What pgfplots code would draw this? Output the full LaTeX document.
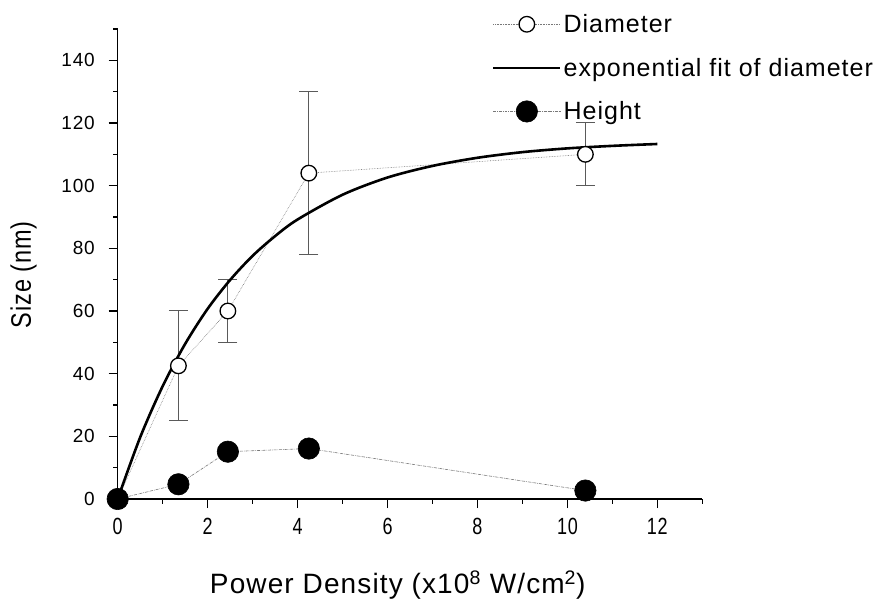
\documentclass[border=0pt]{standalone}
\usepackage{graphicx}
\usepackage{pgfplots}
\pgfplotsset{compat=1.18}
\usepackage{fontspec}
\setmainfont{Liberation Sans}[LetterSpace=4]
\definecolor{lgray}{RGB}{120,120,120}
\definecolor{egray}{RGB}{90,90,90}
\begin{document}
\begin{tikzpicture}
\path[use as bounding box] (-117.7bp,-102bp) rectangle (760.3bp,499bp);
\begin{axis}[
  scale only axis,
  width=584.6bp, height=470bp,
  xmin=0, xmax=13, ymin=0, ymax=150,
  axis lines=left,
  axis line style={-, line width=1.6bp},
  xtick={0,2,...,12}, minor xtick={1,3,...,13},
  ytick={0,20,...,140}, minor ytick={10,30,...,150},
  tick align=outside,
  major tick length=9bp, minor tick length=4.5bp,
  every tick/.style={line width=1.4bp, black},
  /pgf/number format/assume math mode=true,
  xticklabel={\scalebox{1}[1.3]{\pgfmathprintnumber{\tick}}},
  xticklabel style={font=\fontsize{18bp}{22bp}\selectfont, yshift=-7bp},
  yticklabel style={font=\fontsize{19bp}{22bp}\selectfont, xshift=-10.5bp},
  xlabel={Power Density (x10\textsuperscript{8} W/cm\textsuperscript{2})},
  ylabel={\scalebox{1}[1.2]{Size (nm)}},
  xlabel style={font=\fontsize{28bp}{32bp}\selectfont, at={(axis description cs:0.479,-0.2021)}, anchor=base},
  ylabel style={font=\fontsize{23.5bp}{28bp}\selectfont, at={(axis description cs:-0.1608,0.477)}, anchor=center},
  clip=false,
  legend style={at={(0.640,1.0356)}, anchor=north west, draw=none, fill=none,
    font=\fontsize{25bp}{28bp}\selectfont, row sep=20bp, inner sep=0pt},
  legend cell align=left,
  legend image code/.code={\draw[mark repeat=2,mark phase=2,#1] plot coordinates {(0bp,0bp) (33.5bp,0bp) (67bp,0bp)};},
]
\addplot[lgray, line width=0.6bp, densely dotted,
  mark=*, mark size=7.8bp, mark options={solid, fill=white, draw=black, line width=1.3bp},
  error bars/.cd, y dir=both, y explicit, error mark=-,
  error bar style={egray, line width=1bp, solid},
  error mark options={rotate=90, egray, line width=1bp, mark size=9.5bp, solid}]
  coordinates {
  (0,0) +- (0,0)
  (1.35,42.5) +- (0,17.5)
  (2.45,60) +- (0,10)
  (4.25,104) +- (0,26)
  (10.4,110) +- (0,10)
  };
\addlegendentry{Diameter}
\addplot[black, line width=2.6bp, smooth, no marks] coordinates {
  (0,0) (0.5,19.7) (1,36.0) (1.5,49.5) (2,60.7) (2.5,69.9) (3,77.6)
  (3.5,83.9) (4,89.2) (5,97.1) (6,102.6) (7,106.3) (8,108.9)
  (9,110.7) (10,111.9) (11,112.7) (12,113.3)
};
\addlegendentry{exponential fit of diameter}
\addplot[lgray, line width=0.6bp, densely dashdotted,
  mark=*, mark size=10.7bp, mark options={solid, fill=black, draw=black}]
  coordinates {
  (0,0) (1.35,4.7) (2.45,15.1) (4.25,16.1) (10.4,2.7)
  };
\addlegendentry{Height}
\end{axis}
\end{tikzpicture}
\end{document}
